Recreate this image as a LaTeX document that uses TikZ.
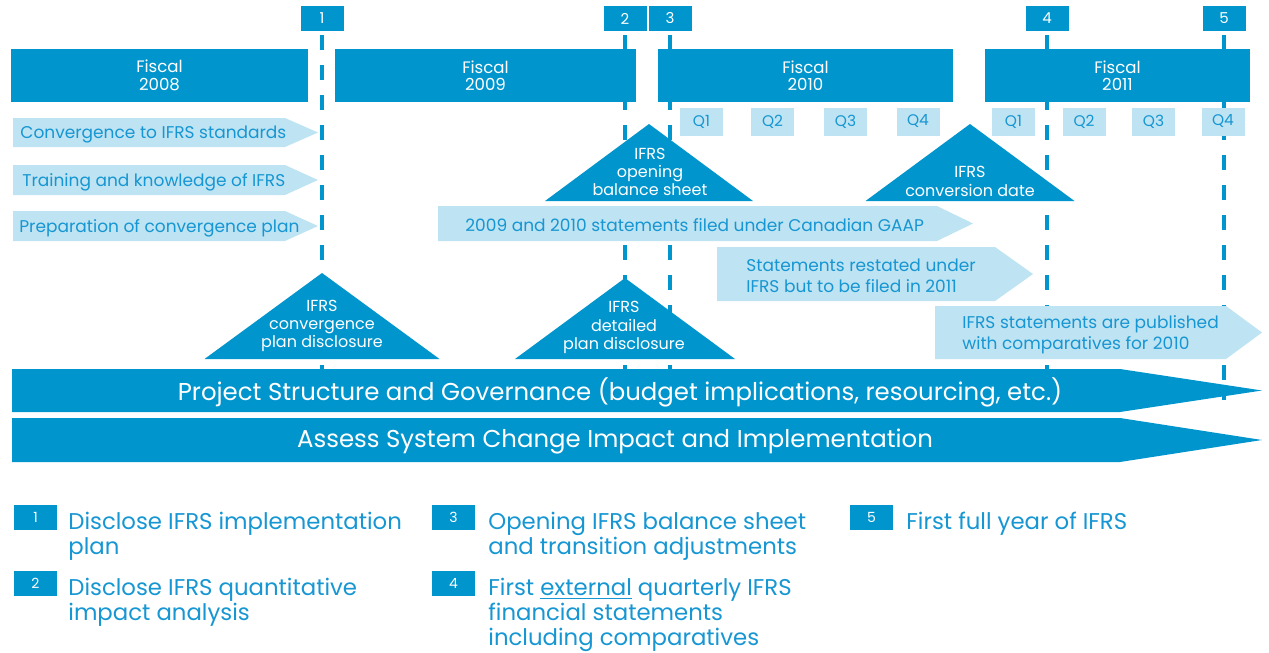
\documentclass[tikz,border=0pt]{standalone}
\usepackage{fontspec}
\setmainfont{Poppins}
\usetikzlibrary{positioning}
\definecolor{ifrsblue}{RGB}{0,149,205}
\definecolor{ifrslight}{RGB}{190,227,242}
\definecolor{ifrstext}{RGB}{22,150,210}
\tikzset{
  fiscal/.style    = {fill=ifrsblue, text=white, align=center, font=\fontsize{8.3}{8.7}\selectfont, minimum height=26.5pt, inner sep=0pt},
  quarter/.style   = {fill=ifrslight, text=ifrstext, font=\fontsize{7.7}{8}\selectfont, minimum width=21.5pt, minimum height=14pt, inner sep=0pt},
  marker/.style    = {fill=ifrsblue, text=white, font=\fontsize{7.5}{8}\selectfont, minimum width=21.5pt, minimum height=12.5pt, inner sep=0pt},
  milestone/.style = {draw=ifrsblue, line width=2pt, dash pattern=on 7.5pt off 7.5pt, dash phase=13pt},
  chevtext/.style  = {text=ifrstext, font=\fontsize{8.5}{10.5}\selectfont, align=left, inner sep=0pt, anchor=west},
  tritext/.style   = {text=white, font=\fontsize{8}{9.2}\selectfont, align=center, inner sep=0pt},
  bartext/.style   = {text=white, font=\fontsize{12.2}{14}\selectfont, inner sep=0pt},
  keybox/.style    = {fill=ifrsblue, text=white, font=\fontsize{7}{8}\selectfont, minimum width=21.5pt, minimum height=12.5pt, inner sep=0pt},
  keytext/.style   = {text=ifrstext, font=\fontsize{11.4}{12.4}\selectfont, align=left, inner sep=0pt, anchor=north west},
}
% pentagon arrow: fill, left x, tip start x, tip x, top y, bottom y
\newcommand{\chevbox}[6][ifrslight]{%
  \fill[#1] (#2,#5) -- (#3,#5) -- (#4,{(#5+#6)/2}) -- (#3,#6) -- (#2,#6) -- cycle;}
% triangle: apex x, apex y, base y, half width
\newcommand{\tribox}[4]{%
  \fill[ifrsblue] (#1,#2) -- ({#1+#4},#3) -- ({#1-#4},#3) -- cycle;}

\begin{document}
\begin{tikzpicture}[x=0.5pt, y=-0.5pt]
  \useasboundingbox (0,0) rectangle (1269,653);

  % milestone markers and their dashed lines (behind everything else)
  \foreach \n/\x in {1/322, 2/625, 3/670, 4/1047, 5/1224} {
    \node[marker] (m\n) at (\x,18.5) {\n};
    \coordinate (e\n) at (\x,400);
    \draw[milestone] (m\n.south) -- (e\n);
  }

  % fiscal years
  \node[fiscal, minimum width=148.5pt] (fy2008) at (159.5,75.5) {Fiscal\\2008};
  \node[fiscal, minimum width=150.5pt] (fy2009) at (485.5,75.5) {Fiscal\\2009};
  \node[fiscal, minimum width=147.5pt] (fy2010) at (805.5,75.5) {Fiscal\\2010};
  \node[fiscal, minimum width=132.5pt] (fy2011) at (1117.5,75.5) {Fiscal\\2011};

  % quarters
  \foreach \q/\x in {1/701.5, 2/772.5, 3/845.5, 4/918}
    \node[quarter] (qa\q) at (\x,121.5) {Q\q};
  \foreach \q/\x in {1/1013.5, 2/1084, 3/1153.5, 4/1223}
    \node[quarter] (qb\q) at (\x,121.5) {Q\q};

  % preparation work
  \chevbox{13}{285}{318}{118}{147}
  \node[chevtext] (conv) at (20,134.5) {Convergence to IFRS standards};
  \chevbox{13}{285}{318}{165}{195}
  \node[chevtext] (train) at (22,182) {Training and knowledge of IFRS};
  \chevbox{13}{285}{318}{211}{241}
  \node[chevtext] (prep) at (19,228) {Preparation of convergence plan};

  % filing periods
  \chevbox{438}{937}{973}{206}{241}
  \node[chevtext] (gaap) at (465,225.5) {2009 and 2010 statements filed under Canadian GAAP};
  \chevbox{717}{995}{1033}{247}{301}
  \node[chevtext] (restate) at (746,276) {Statements restated under\\IFRS but to be filed in 2011};
  \chevbox{935}{1226}{1262}{306}{359}
  \node[chevtext] (publish) at (962,334.5) {IFRS statements are published\\with comparatives for 2010};

  % key dates
  \tribox{649}{124}{201}{104}
  \node[tritext] (open) at (650,172) {IFRS\\opening\\balance sheet};
  \tribox{970}{124}{201}{104.5}
  \node[tritext] (convdate) at (970,181.5) {IFRS\\conversion date};
  \tribox{322}{273}{359}{117.5}
  \node[tritext] (plan) at (322,326) {IFRS\\convergence\\plan disclosure};
  \tribox{625}{278}{359}{110}
  \node[tritext] (detail) at (624,327.5) {IFRS\\detailed\\plan disclosure};

  % ongoing streams
  \chevbox[ifrsblue]{12}{1120}{1262}{369}{412}
  \node[bartext] (gov) at (620,392.5) {Project Structure and Governance (budget implications, resourcing, etc.)};
  \chevbox[ifrsblue]{12}{1120}{1262}{418}{462}
  \node[bartext] (sys) at (615,442) {Assess System Change Impact and Implementation};

  % key
  \node[keybox] (k1) at (35.5,517.5) {1};
  \node[keytext] (k1t) at (68,512) {Disclose IFRS implementation\\plan};
  \node[keybox] (k2) at (35.5,583.5) {2};
  \node[keytext] (k2t) at (68,578) {Disclose IFRS quantitative\\impact analysis};
  \node[keybox] (k3) at (453.5,517.5) {3};
  \node[keytext] (k3t) at (488,512) {Opening IFRS balance sheet\\and transition adjustments};
  \node[keybox] (k4) at (453.5,583.5) {4};
  \node[keytext] (k4t) at (488,578) {First \underline{external} quarterly IFRS\\financial statements\\including comparatives};
  \node[keybox] (k5) at (871.5,517.5) {5};
  \node[keytext] (k5t) at (906,512) {First full year of IFRS};
\end{tikzpicture}
\end{document}
